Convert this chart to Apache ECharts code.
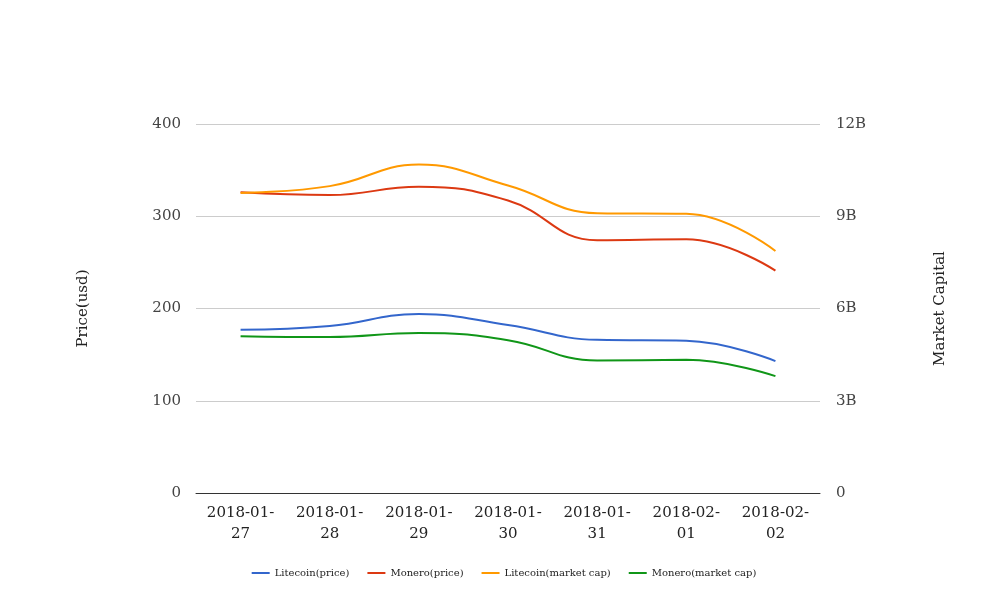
<!DOCTYPE html>
<html>
<head>
<meta charset="utf-8">
<script src="https://cdn.jsdelivr.net/npm/echarts@6/dist/echarts.min.js"></script>
<style>html,body{margin:0;padding:0;background:#fff}#c{width:1008px;height:616px}</style>
</head>
<body>
<div id="c"></div>
<script>
const categories = ['2018-01-27','2018-01-28','2018-01-29','2018-01-30','2018-01-31','2018-02-01','2018-02-02'];
const litecoinPrice = [177, 181, 194, 182, 166, 165, 143];
const moneroPrice = [326, 323, 332, 317, 274, 275, 241];
const litecoinCap = [9.76e9, 9.98e9, 10.68e9, 10.0e9, 9.1e9, 9.08e9, 7.87e9];
const moneroCap = [5.1e9, 5.07e9, 5.2e9, 4.97e9, 4.31e9, 4.33e9, 3.8e9];
const priceTicks = [0, 100, 200, 300, 400];
const capTicks = ['0', '3B', '6B', '9B', '12B'];

const font = 'DejaVu Serif';
const chart = echarts.init(document.getElementById('c'));
chart.setOption({
  backgroundColor: '#fff',
  textStyle: { fontFamily: font },
  color: ['#3366cc', '#dc3912', '#ff9900', '#109618'],
  grid: { left: 196, right: 188, top: 124, bottom: 123 },
  legend: {
    bottom: 33,
    left: 'center',
    icon: 'rect',
    itemWidth: 18,
    itemHeight: 2,
    itemGap: 18,
    textStyle: { fontFamily: font, fontSize: 10, color: '#222' },
    data: ['Litecoin(price)', 'Monero(price)', 'Litecoin(market cap)', 'Monero(market cap)']
  },
  xAxis: {
    type: 'category',
    data: categories,
    boundaryGap: true,
    axisLine: { lineStyle: { color: '#333', width: 1 } },
    axisTick: { show: false },
    axisLabel: {
      fontFamily: font, fontSize: 15, color: '#222', margin: 10, lineHeight: 21,
      formatter: v => { const i = v.lastIndexOf('-'); return v.slice(0, i + 1) + '\n' + v.slice(i + 1); }
    }
  },
  yAxis: [
    {
      type: 'value', min: 0, max: 400, interval: 100,
      name: 'Price(usd)', nameLocation: 'middle', nameGap: 105,
      nameTextStyle: { fontFamily: font, fontSize: 15, color: '#222' },
      axisLine: { show: false }, axisTick: { show: false },
      axisLabel: { fontFamily: font, fontSize: 15, color: '#444', margin: 15,
        formatter: v => String(priceTicks[Math.round(v / 100)]) },
      splitLine: { lineStyle: { color: '#ccc' } }
    },
    {
      type: 'value', min: 0, max: 12e9, interval: 3e9,
      name: 'Market Capital', nameLocation: 'middle', nameGap: 113,
      nameTextStyle: { fontFamily: font, fontSize: 15, color: '#222' },
      axisLine: { show: false }, axisTick: { show: false },
      axisLabel: { fontFamily: font, fontSize: 15, color: '#444', margin: 16,
        formatter: v => capTicks[Math.round(v / 3e9)] },
      splitLine: { show: false }
    }
  ],
  series: [
    { name: 'Litecoin(price)', type: 'line', yAxisIndex: 0, data: litecoinPrice, smooth: 0.45, showSymbol: false, lineStyle: { width: 2 } },
    { name: 'Monero(price)', type: 'line', yAxisIndex: 0, data: moneroPrice, smooth: 0.45, showSymbol: false, lineStyle: { width: 2 } },
    { name: 'Litecoin(market cap)', type: 'line', yAxisIndex: 1, data: litecoinCap, smooth: 0.45, showSymbol: false, lineStyle: { width: 2 } },
    { name: 'Monero(market cap)', type: 'line', yAxisIndex: 1, data: moneroCap, smooth: 0.45, showSymbol: false, lineStyle: { width: 2 } }
  ]
});
</script>
</body>
</html>
